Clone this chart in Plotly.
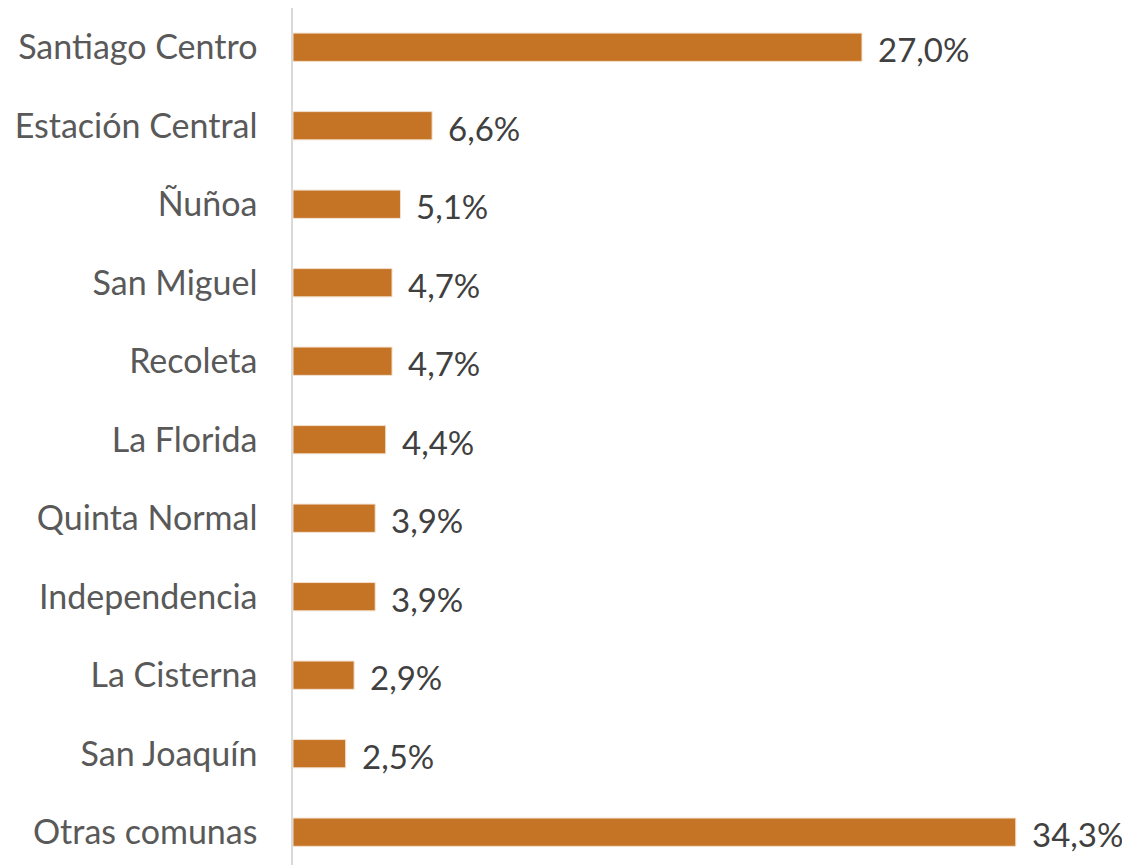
import plotly.graph_objects as go

# comunas and their share (%)
comunas = ["Santiago Centro", "Estación Central", "Ñuñoa", "San Miguel", "Recoleta",
           "La Florida", "Quinta Normal", "Independencia", "La Cisterna", "San Joaquín",
           "Otras comunas"]
porcentajes = [27.0, 6.6, 5.1, 4.7, 4.7, 4.4, 3.9, 3.9, 2.9, 2.5, 34.3]
etiquetas = [f"{v:.1f}%".replace(".", ",") for v in porcentajes]

fig = go.Figure(go.Bar(
    x=porcentajes,
    y=comunas,
    orientation="h",
    marker=dict(color="#C57324", line=dict(color="#F3E1CF", width=1)),
    width=0.36,
    hoverinfo="skip",
))

# value labels to the right of each bar
for c, v, t in zip(comunas, porcentajes, etiquetas):
    fig.add_annotation(
        x=v, y=c, text=t, showarrow=False,
        xanchor="left", yanchor="middle", xshift=14, yshift=-2,
        font=dict(family="Lato", size=33, color="#404040"),
    )

fig.update_layout(
    width=1130,
    height=865,
    margin=dict(l=285, r=20, t=0, b=0),
    plot_bgcolor="white",
    paper_bgcolor="white",
    showlegend=False,
    font=dict(family="Lato", size=34, color="#595959"),
)

fig.update_xaxes(
    range=[0, 39.15],
    visible=False,
    showgrid=False,
    zeroline=False,
    automargin=False,
)
fig.update_yaxes(
    categoryorder="array",
    categoryarray=comunas,
    range=[10.52, -0.5],
    showline=True,
    linecolor="#D9D9D9",
    linewidth=1.5,
    showgrid=False,
    ticks="",
    ticklabelstandoff=27,
    automargin=False,
    tickfont=dict(family="Lato", size=34, color="#595959"),
)

fig.write_html("out.html")
